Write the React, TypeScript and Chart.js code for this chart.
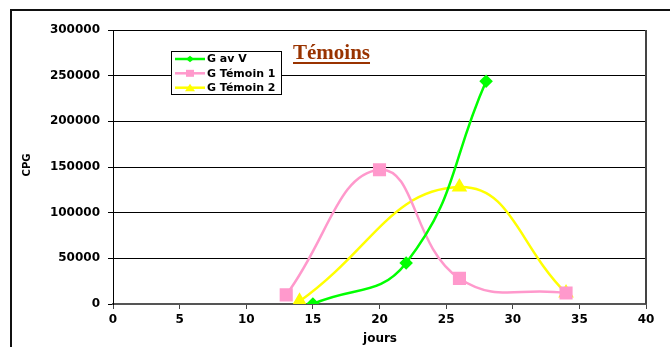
import React, { useEffect, useRef } from "react";
import { Chart, registerables } from "chart.js";

Chart.register(...registerables);

// ---- Data ----
const gavVDays = [15, 22, 28];
const gavVValues = [0, 45000, 244000];
const temoin1Days = [13, 20, 26, 34];
const temoin1Values = [10000, 147000, 28000, 12000];
const temoin2Days = [14, 26, 34];
const temoin2Values = [3000, 128000, 12000];

const seriesNames = ["G av V", "G Témoin 1", "G Témoin 2"];
const seriesColors = ["#00FF00", "#FF99CC", "#FFFF00"];
const seriesMarkers = ["rectRot", "rect", "triangle"];

const xMin = 0;
const xMax = 40;
const xStep = 5;
const yMin = 0;
const yMax = 300000;
const yStep = 50000;

const chartTitle = "Témoins";
const xTitle = "jours";
const yTitle = "CPG";

const FONT = "'DejaVu Sans', Verdana, sans-serif";

function toPoints(xs: number[], ys: number[]) {
  return xs.map((x, i) => ({ x, y: ys[i] }));
}

function drawMarker(ctx: CanvasRenderingContext2D, style: string, x: number, y: number, color: string) {
  ctx.save();
  ctx.fillStyle = color;
  ctx.beginPath();
  if (style === "rectRot") {
    const r = 4;
    ctx.moveTo(x - r, y);
    ctx.lineTo(x, y - r * 0.8);
    ctx.lineTo(x + r, y);
    ctx.lineTo(x, y + r * 0.8);
    ctx.closePath();
  } else if (style === "rect") {
    ctx.rect(x - 4, y - 3.5, 8, 7);
  } else {
    ctx.moveTo(x, y - 4);
    ctx.lineTo(x + 5, y + 3.5);
    ctx.lineTo(x - 5, y + 3.5);
    ctx.closePath();
  }
  ctx.fill();
  ctx.restore();
}

const decorPlugin = {
  id: "decor",
  afterDraw(chart: any) {
    const ctx: CanvasRenderingContext2D = chart.ctx;
    const { top, right, bottom } = chart.chartArea;
    ctx.save();

    // outer frame
    ctx.strokeStyle = "#111";
    ctx.lineWidth = 2;
    ctx.beginPath();
    ctx.moveTo(11, 347);
    ctx.lineTo(11, 10);
    ctx.lineTo(670, 10);
    ctx.stroke();

    // plot right border
    ctx.strokeStyle = "#444";
    ctx.lineWidth = 2;
    ctx.beginPath();
    ctx.moveTo(right, top);
    ctx.lineTo(right, bottom);
    ctx.stroke();

    // title
    ctx.font = `bold 21px 'Liberation Serif', 'Times New Roman', serif`;
    ctx.fillStyle = "#993300";
    ctx.textAlign = "left";
    ctx.textBaseline = "alphabetic";
    const tx = 293;
    ctx.fillText(chartTitle, tx, 59);
    const tw = ctx.measureText(chartTitle).width;
    ctx.strokeStyle = "#993300";
    ctx.lineWidth = 2;
    ctx.beginPath();
    ctx.moveTo(tx, 63);
    ctx.lineTo(tx + tw, 63);
    ctx.stroke();

    // axis titles
    ctx.fillStyle = "#000";
    ctx.font = `bold 12px ${FONT}`;
    ctx.textAlign = "center";
    ctx.textBaseline = "middle";
    ctx.fillText(xTitle, 380, 339);
    ctx.save();
    ctx.translate(27, 165);
    ctx.rotate(-Math.PI / 2);
    ctx.font = `bold 10px ${FONT}`;
    ctx.fillText(yTitle, 0, 0);
    ctx.restore();

    // legend
    const bx = 171.5, by = 51.5, bw = 110, bh = 43;
    ctx.fillStyle = "#fff";
    ctx.fillRect(bx, by, bw, bh);
    ctx.strokeStyle = "#000";
    ctx.lineWidth = 1;
    ctx.strokeRect(bx, by, bw, bh);
    const rows = [59, 73.3, 87.7];
    ctx.font = `bold 11px ${FONT}`;
    ctx.textAlign = "left";
    ctx.textBaseline = "middle";
    seriesNames.forEach((name, i) => {
      const y = rows[i];
      ctx.strokeStyle = seriesColors[i];
      ctx.lineWidth = 2.5;
      ctx.beginPath();
      ctx.moveTo(175, y);
      ctx.lineTo(205, y);
      ctx.stroke();
      drawMarker(ctx, seriesMarkers[i], 190, y, seriesColors[i]);
      ctx.fillStyle = "#000";
      ctx.fillText(name, 207, y + 0.5);
    });

    ctx.restore();
  },
};

export default function App() {
  const canvasRef = useRef<HTMLCanvasElement | null>(null);

  useEffect(() => {
    const canvas = canvasRef.current;
    if (!canvas) return;
    const common = {
      showLine: true,
      tension: 0.45,
      borderWidth: 2.5,
      fill: false,
    };
    const chart = new Chart(canvas, {
      type: "scatter",
      data: {
        datasets: [
          {
            ...common,
            label: seriesNames[0],
            data: toPoints(gavVDays, gavVValues),
            borderColor: seriesColors[0],
            backgroundColor: seriesColors[0],
            pointStyle: "rectRot",
            pointRadius: 5,
          },
          {
            ...common,
            label: seriesNames[1],
            data: toPoints(temoin1Days, temoin1Values),
            borderColor: seriesColors[1],
            backgroundColor: seriesColors[1],
            pointStyle: "rect",
            pointRadius: 7.5,
          },
          {
            ...common,
            label: seriesNames[2],
            data: toPoints(temoin2Days, temoin2Values),
            borderColor: seriesColors[2],
            backgroundColor: seriesColors[2],
            pointStyle: "triangle",
            pointRadius: 6.5,
          },
        ],
      },
      options: {
        animation: false,
        responsive: false,
        maintainAspectRatio: false,
        layout: { padding: { left: 0, top: 30, right: 24, bottom: 0 } },
        plugins: {
          legend: { display: false },
          tooltip: { enabled: false },
          title: { display: false },
        },
        scales: {
          x: {
            type: "linear",
            min: xMin,
            max: xMax,
            afterFit: (s: any) => {
              s.height = 43;
            },
            ticks: {
              stepSize: xStep,
              color: "#000",
              font: { family: FONT, size: 12, weight: "bold" },
              padding: 4,
              maxRotation: 0,
            },
            grid: {
              drawOnChartArea: false,
              drawTicks: true,
              tickLength: 5,
              color: "#444",
              lineWidth: 1,
            },
            border: { display: true, color: "#555", width: 2 },
          },
          y: {
            type: "linear",
            min: yMin,
            max: yMax,
            afterFit: (s: any) => {
              s.width = 113;
            },
            ticks: {
              stepSize: yStep,
              color: "#000",
              font: { family: FONT, size: 12, weight: "bold" },
              padding: 8,
              callback: (v: any) => String(v),
            },
            grid: {
              color: "#000",
              lineWidth: 1,
              tickLength: 5,
            },
            border: { display: true, color: "#000", width: 1 },
          },
        },
      },
      plugins: [decorPlugin],
    } as any);
    return () => chart.destroy();
  }, []);

  return (
    <div style={{ position: "absolute", left: 0, top: 0, width: 670, height: 347, background: "#fff" }}>
      <canvas ref={canvasRef} width={670} height={347} style={{ display: "block", width: 670, height: 347 }} />
    </div>
  );
}
